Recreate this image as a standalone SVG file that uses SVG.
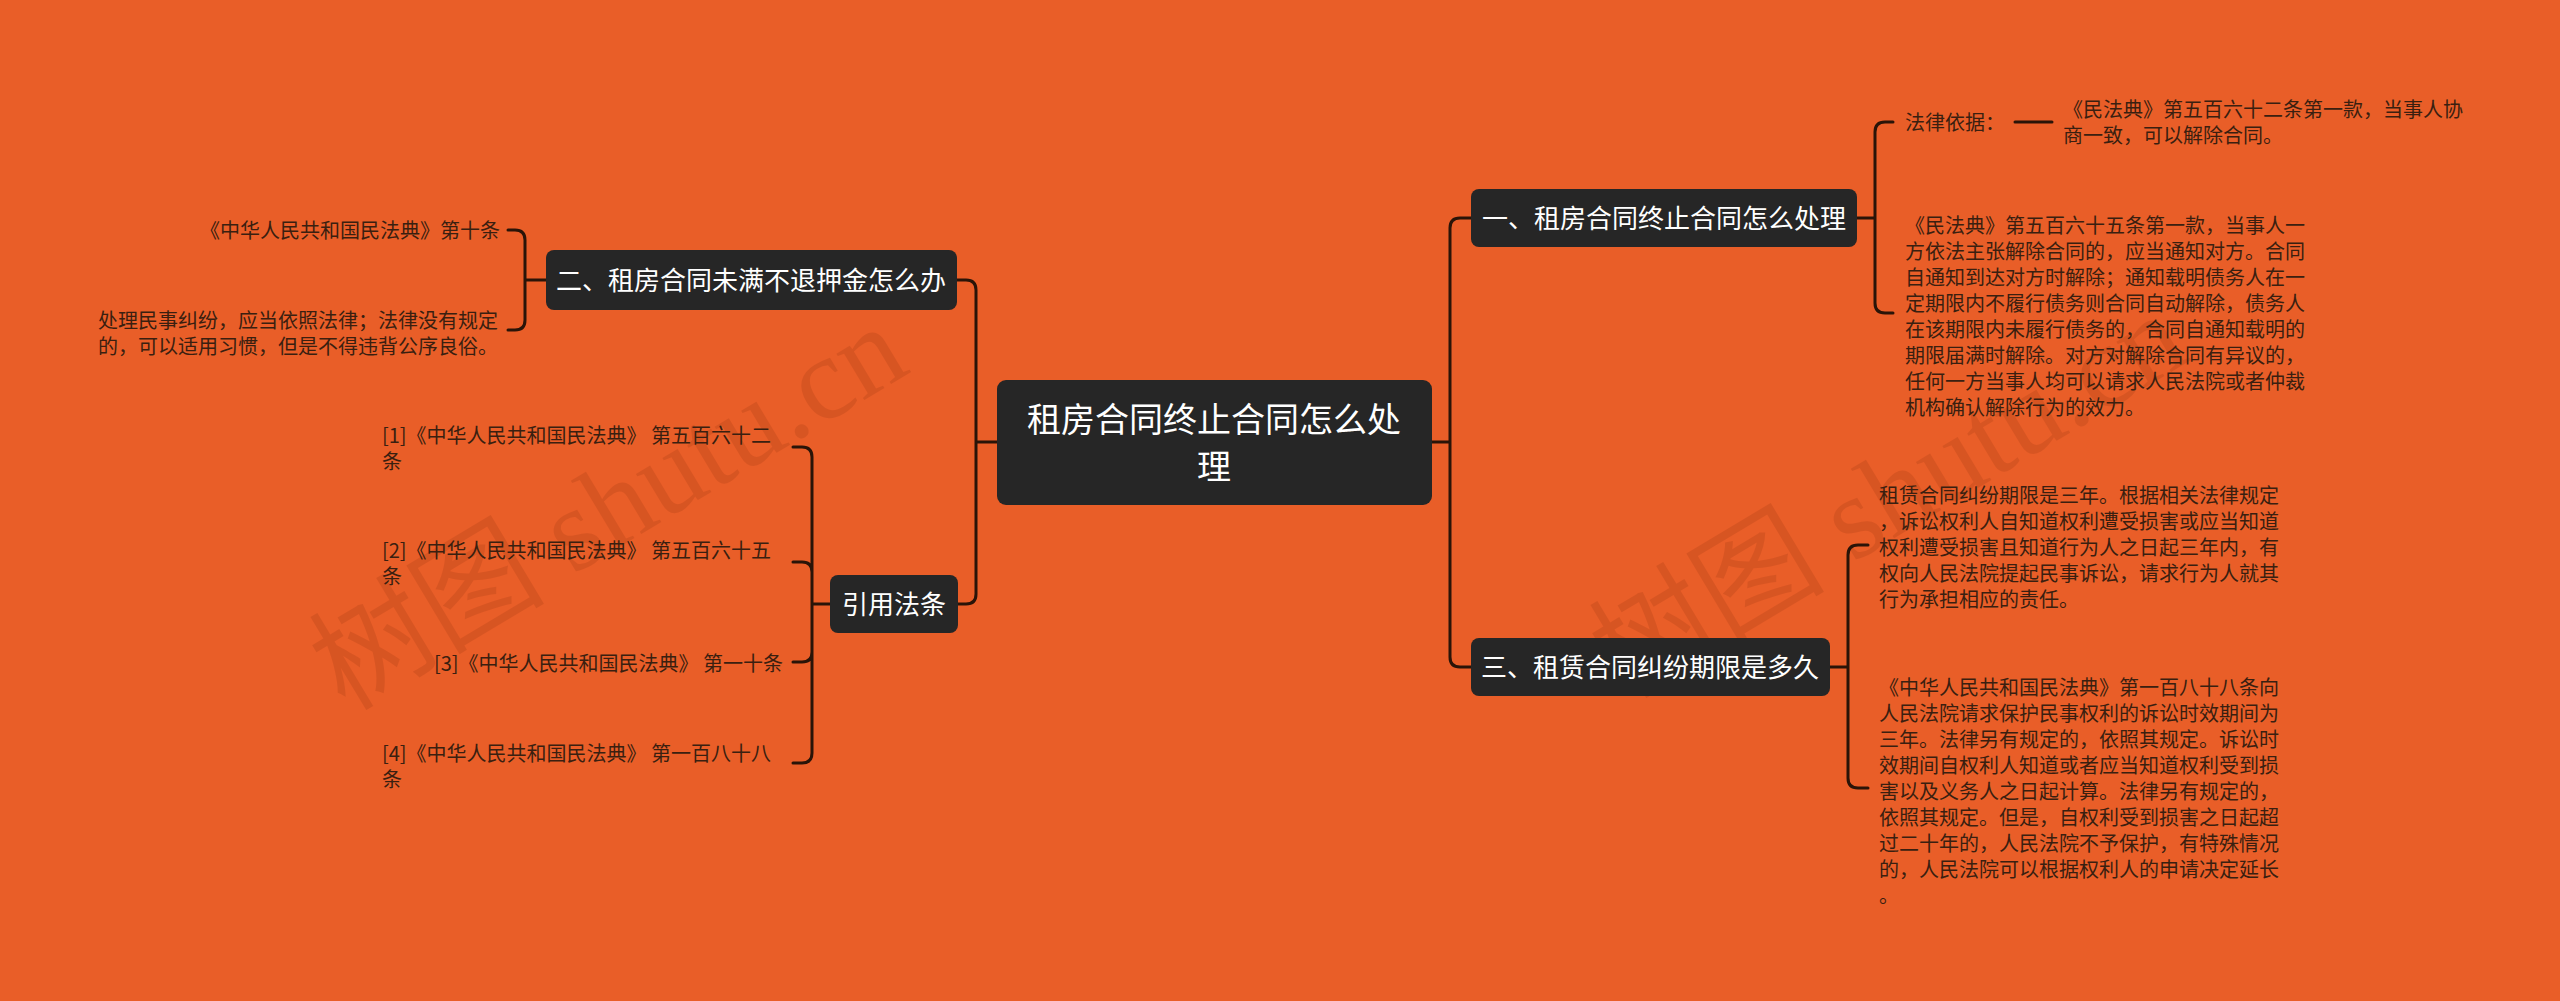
<svg xmlns="http://www.w3.org/2000/svg" width="2560" height="1001" viewBox="0 0 2560 1001">
<style>
.bg{fill:#E95E28}
.box{fill:#262626}
.nt{fill:#ffffff;font-family:"Noto Sans CJK SC","Noto Sans",sans-serif;font-size:26px}
.rt{fill:#ffffff;font-family:"Noto Sans CJK SC","Noto Sans",sans-serif;font-size:34px}
.lt{fill:#3a1f10;font-family:"Noto Sans CJK SC","Noto Sans",sans-serif;font-size:20px}
.ln{fill:none;stroke:#2a1408;stroke-width:3;stroke-linecap:round}
.wm{fill:#8a2e0c;opacity:0.18;font-family:"Liberation Serif","Noto Sans CJK SC",serif;font-size:118px}
</style>
<rect class="bg" x="0" y="0" width="2560" height="1001"/>
<g id="watermark">
<text class="wm" x="345" y="712" transform="rotate(-31 345 712)">树图 shutu.cn</text>
<text class="wm" x="1625" y="700" transform="rotate(-31 1625 700)">树图 shutu.cn</text>
</g>
<g id="connectors">
<path class="ln" d="M997 442 H976 M957 280 H966 Q976 280 976 290 V594 Q976 604 966 604 H957"/>
<path class="ln" d="M1432 442 H1450 M1471 218 H1460 Q1450 218 1450 228 V657 Q1450 667 1460 667 H1471"/>
<path class="ln" d="M1857 218 H1875 M1893 122 H1885 Q1875 122 1875 132 V303 Q1875 313 1885 313 H1893"/>
<path class="ln" d="M2015 122 H2052"/>
<path class="ln" d="M1830 667 H1848 M1868 545 H1858 Q1848 545 1848 555 V778 Q1848 788 1858 788 H1868"/>
<path class="ln" d="M546 280 H525 M508 230 H515 Q525 230 525 240 V320 Q525 330 515 330 H508"/>
<path class="ln" d="M830 604 H812 M793 447 H802 Q812 447 812 457 V753 Q812 763 802 763 H793 M793 562 H802 Q812 562 812 572 M793 662 H802 Q812 662 812 652"/>
</g>
<g id="root">
<rect class="box" x="997" y="380" width="435" height="125" rx="9"/>
<text class="rt" text-anchor="middle" x="1214" y="432">租房合同终止合同怎么处</text>
<text class="rt" text-anchor="middle" x="1214" y="479">理</text>
</g>
<g id="n1">
<rect class="box" x="1471" y="189" width="386" height="58" rx="8"/>
<text class="nt" text-anchor="middle" x="1664" y="228">一、租房合同终止合同怎么处理</text>
</g>
<g id="n1a">
<text class="lt" x="1905" y="130">法律依据：</text>
</g>
<g id="n1a1">
<text class="lt" x="2063" y="117">《民法典》第五百六十二条第一款，当事人协</text>
<text class="lt" x="2063" y="143">商一致，可以解除合同。</text>
</g>
<g id="n1b">
<text class="lt" x="1905" y="233">《民法典》第五百六十五条第一款，当事人一</text>
<text class="lt" x="1905" y="259">方依法主张解除合同的，应当通知对方。合同</text>
<text class="lt" x="1905" y="285">自通知到达对方时解除；通知载明债务人在一</text>
<text class="lt" x="1905" y="311">定期限内不履行债务则合同自动解除，债务人</text>
<text class="lt" x="1905" y="337">在该期限内未履行债务的，合同自通知载明的</text>
<text class="lt" x="1905" y="363">期限届满时解除。对方对解除合同有异议的，</text>
<text class="lt" x="1905" y="389">任何一方当事人均可以请求人民法院或者仲裁</text>
<text class="lt" x="1905" y="415">机构确认解除行为的效力。</text>
</g>
<g id="n3">
<rect class="box" x="1471" y="638" width="359" height="58" rx="8"/>
<text class="nt" text-anchor="middle" x="1650" y="677">三、租赁合同纠纷期限是多久</text>
</g>
<g id="n3a">
<text class="lt" x="1879" y="503">租赁合同纠纷期限是三年。根据相关法律规定</text>
<text class="lt" x="1879" y="529">，诉讼权利人自知道权利遭受损害或应当知道</text>
<text class="lt" x="1879" y="555">权利遭受损害且知道行为人之日起三年内，有</text>
<text class="lt" x="1879" y="581">权向人民法院提起民事诉讼，请求行为人就其</text>
<text class="lt" x="1879" y="607">行为承担相应的责任。</text>
</g>
<g id="n3b">
<text class="lt" x="1879" y="695">《中华人民共和国民法典》第一百八十八条向</text>
<text class="lt" x="1879" y="721">人民法院请求保护民事权利的诉讼时效期间为</text>
<text class="lt" x="1879" y="747">三年。法律另有规定的，依照其规定。诉讼时</text>
<text class="lt" x="1879" y="773">效期间自权利人知道或者应当知道权利受到损</text>
<text class="lt" x="1879" y="799">害以及义务人之日起计算。法律另有规定的，</text>
<text class="lt" x="1879" y="825">依照其规定。但是，自权利受到损害之日起超</text>
<text class="lt" x="1879" y="851">过二十年的，人民法院不予保护，有特殊情况</text>
<text class="lt" x="1879" y="877">的，人民法院可以根据权利人的申请决定延长</text>
<text class="lt" x="1879" y="903">。</text>
</g>
<g id="n2">
<rect class="box" x="546" y="250" width="411" height="60" rx="8"/>
<text class="nt" text-anchor="middle" x="751" y="290">二、租房合同未满不退押金怎么办</text>
</g>
<g id="n2a">
<text class="lt" text-anchor="end" x="500" y="238">《中华人民共和国民法典》第十条</text>
</g>
<g id="n2b">
<text class="lt" x="98" y="328">处理民事纠纷，应当依照法律；法律没有规定</text>
<text class="lt" x="98" y="354">的，可以适用习惯，但是不得违背公序良俗。</text>
</g>
<g id="n4">
<rect class="box" x="830" y="575" width="128" height="58" rx="8"/>
<text class="nt" text-anchor="middle" x="894" y="614">引用法条</text>
</g>
<g id="n4a">
<text class="lt" x="382" y="443">[1]《中华人民共和国民法典》 第五百六十二</text>
<text class="lt" x="382" y="469">条</text>
</g>
<g id="n4b">
<text class="lt" x="382" y="558">[2]《中华人民共和国民法典》 第五百六十五</text>
<text class="lt" x="382" y="584">条</text>
</g>
<g id="n4c">
<text class="lt" text-anchor="end" x="783" y="671">[3]《中华人民共和国民法典》 第一十条</text>
</g>
<g id="n4d">
<text class="lt" x="382" y="761">[4]《中华人民共和国民法典》 第一百八十八</text>
<text class="lt" x="382" y="787">条</text>
</g>
</svg>
